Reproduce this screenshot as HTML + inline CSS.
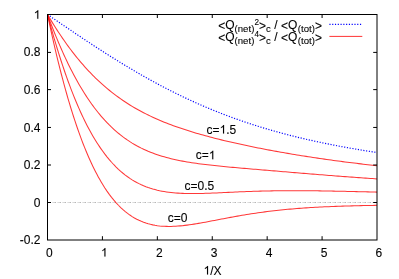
<!DOCTYPE html><html><head><meta charset="utf-8"><style>html,body{margin:0;padding:0;background:#fff;}svg{display:block;will-change:transform;}text{font-family:"Liberation Sans",sans-serif;fill:#000;stroke:#000;stroke-width:0.1px;}</style></head><body>
<svg width="399" height="279" viewBox="0 0 399 279">
<rect width="399" height="279" fill="#fff"/>
<line x1="50" y1="202.5" x2="376" y2="202.5" stroke="#b6b6b6" stroke-width="1" stroke-dasharray="1,4"/>
<line x1="52" y1="202.5" x2="376" y2="202.5" stroke="#e6e6e6" stroke-width="1" stroke-dasharray="1,4"/>
<line x1="53" y1="202.5" x2="376" y2="202.5" stroke="#dadada" stroke-width="1" stroke-dasharray="1,4"/>
<line x1="54" y1="202.5" x2="376" y2="202.5" stroke="#d4d4d4" stroke-width="1" stroke-dasharray="1,4"/>
<path d="M47.50,14.50 L48.87,15.44 L50.25,16.37 L51.62,17.31 L52.99,18.25 L54.36,19.18 L55.74,20.12 L57.11,21.06 L58.48,21.99 L59.86,22.93 L61.23,23.86 L62.60,24.79 L63.98,25.72 L65.35,26.66 L66.72,27.59 L68.09,28.52 L69.47,29.44 L70.84,30.37 L72.21,31.30 L73.59,32.22 L74.96,33.14 L76.33,34.07 L77.70,34.99 L79.08,35.91 L80.45,36.82 L81.82,37.74 L83.20,38.65 L84.57,39.56 L85.94,40.47 L87.31,41.38 L88.69,42.29 L90.06,43.19 L91.43,44.09 L92.81,44.99 L94.18,45.89 L95.55,46.79 L96.93,47.68 L98.30,48.57 L99.67,49.46 L101.04,50.34 L102.42,51.22 L104.70,52.69 L106.99,54.14 L109.28,55.59 L111.57,57.03 L113.86,58.46 L116.15,59.89 L118.43,61.30 L120.72,62.71 L123.01,64.10 L125.30,65.49 L127.59,66.86 L129.88,68.23 L132.16,69.59 L134.45,70.93 L136.74,72.27 L139.03,73.59 L141.32,74.91 L143.60,76.21 L145.89,77.50 L148.18,78.78 L150.47,80.05 L152.76,81.31 L155.05,82.56 L157.33,83.79 L159.62,85.02 L161.91,86.23 L164.20,87.43 L166.49,88.62 L168.77,89.79 L171.06,90.95 L173.35,92.11 L175.64,93.24 L177.93,94.37 L180.22,95.49 L182.50,96.59 L184.79,97.68 L187.08,98.76 L189.37,99.82 L191.66,100.87 L193.94,101.91 L196.23,102.94 L198.52,103.96 L200.81,104.96 L203.10,105.96 L205.39,106.94 L207.67,107.90 L209.96,108.86 L212.25,109.80 L214.54,110.73 L216.83,111.65 L219.11,112.56 L221.40,113.46 L223.69,114.34 L225.98,115.21 L228.27,116.08 L230.56,116.93 L232.84,117.76 L235.13,118.59 L237.42,119.41 L239.71,120.21 L242.00,121.01 L244.28,121.79 L246.57,122.56 L248.86,123.32 L251.15,124.07 L253.44,124.81 L255.73,125.54 L258.01,126.26 L260.30,126.97 L262.59,127.67 L264.88,128.36 L267.17,129.04 L269.45,129.71 L271.74,130.38 L274.03,131.03 L276.32,131.67 L278.61,132.30 L280.90,132.93 L283.18,133.54 L285.47,134.15 L287.76,134.74 L290.05,135.33 L292.34,135.91 L294.62,136.49 L296.91,137.05 L299.20,137.61 L301.49,138.15 L303.78,138.69 L306.07,139.23 L308.35,139.75 L310.64,140.27 L312.93,140.78 L315.22,141.28 L317.51,141.77 L319.80,142.26 L322.08,142.74 L324.37,143.22 L326.66,143.69 L328.95,144.15 L331.24,144.60 L333.52,145.05 L335.81,145.49 L338.10,145.93 L340.39,146.36 L342.68,146.78 L344.97,147.20 L347.25,147.61 L349.54,148.02 L351.83,148.42 L354.12,148.81 L356.41,149.20 L358.69,149.59 L360.98,149.97 L363.27,150.34 L365.56,150.71 L367.85,151.08 L370.14,151.44 L372.42,151.79 L374.71,152.14 L377.00,152.49" fill="none" stroke="#0000ff" stroke-width="1.2" stroke-dasharray="1.15,1.63"/>
<path d="M47.50,14.50 L48.87,21.00 L50.25,27.36 L51.62,33.60 L52.99,39.71 L54.36,45.69 L55.74,51.55 L57.11,57.29 L58.48,62.90 L59.86,68.38 L61.23,73.75 L62.60,78.99 L63.98,84.12 L65.35,89.13 L66.72,94.01 L68.09,98.79 L69.47,103.44 L70.84,107.98 L72.21,112.41 L73.59,116.73 L74.96,120.94 L76.33,125.04 L77.70,129.03 L79.08,132.91 L80.45,136.69 L81.82,140.37 L83.20,143.94 L84.57,147.41 L85.94,150.78 L87.31,154.06 L88.69,157.24 L90.06,160.32 L91.43,163.31 L92.81,166.20 L94.18,169.01 L95.55,171.73 L96.93,174.36 L98.30,176.90 L99.67,179.36 L101.04,181.73 L102.42,184.02 L104.70,187.67 L106.99,191.10 L109.28,194.32 L111.57,197.34 L113.86,200.16 L116.15,202.80 L118.43,205.26 L120.72,207.54 L123.01,209.65 L125.30,211.61 L127.59,213.41 L129.88,215.06 L132.16,216.58 L134.45,217.96 L136.74,219.21 L139.03,220.34 L141.32,221.35 L143.60,222.25 L145.89,223.05 L148.18,223.75 L150.47,224.35 L152.76,224.87 L155.05,225.30 L157.33,225.65 L159.62,225.94 L161.91,226.15 L164.20,226.30 L166.49,226.38 L168.77,226.42 L171.06,226.40 L173.35,226.33 L175.64,226.22 L177.93,226.06 L180.22,225.87 L182.50,225.65 L184.79,225.39 L187.08,225.11 L189.37,224.80 L191.66,224.47 L193.94,224.12 L196.23,223.75 L198.52,223.37 L200.81,222.97 L203.10,222.56 L205.39,222.15 L207.67,221.72 L209.96,221.29 L212.25,220.85 L214.54,220.42 L216.83,219.98 L219.11,219.54 L221.40,219.10 L223.69,218.66 L225.98,218.23 L228.27,217.80 L230.56,217.37 L232.84,216.95 L235.13,216.54 L237.42,216.13 L239.71,215.73 L242.00,215.34 L244.28,214.95 L246.57,214.57 L248.86,214.20 L251.15,213.84 L253.44,213.49 L255.73,213.15 L258.01,212.82 L260.30,212.49 L262.59,212.18 L264.88,211.88 L267.17,211.58 L269.45,211.29 L271.74,211.02 L274.03,210.75 L276.32,210.49 L278.61,210.24 L280.90,210.00 L283.18,209.77 L285.47,209.54 L287.76,209.33 L290.05,209.12 L292.34,208.92 L294.62,208.73 L296.91,208.55 L299.20,208.37 L301.49,208.20 L303.78,208.04 L306.07,207.88 L308.35,207.73 L310.64,207.59 L312.93,207.45 L315.22,207.32 L317.51,207.20 L319.80,207.08 L322.08,206.96 L324.37,206.85 L326.66,206.75 L328.95,206.65 L331.24,206.55 L333.52,206.46 L335.81,206.37 L338.10,206.29 L340.39,206.21 L342.68,206.14 L344.97,206.06 L347.25,205.99 L349.54,205.93 L351.83,205.86 L354.12,205.80 L356.41,205.75 L358.69,205.69 L360.98,205.64 L363.27,205.59 L365.56,205.54 L367.85,205.49 L370.14,205.45 L372.42,205.41 L374.71,205.36 L377.00,205.33" fill="none" stroke="#ff0000" stroke-opacity="0.78" stroke-width="1.05"/>
<path d="M47.50,14.50 L48.87,19.61 L50.25,24.61 L51.62,29.53 L52.99,34.34 L54.36,39.07 L55.74,43.70 L57.11,48.23 L58.48,52.67 L59.86,57.02 L61.23,61.28 L62.60,65.44 L63.98,69.52 L65.35,73.51 L66.72,77.41 L68.09,81.22 L69.47,84.94 L70.84,88.58 L72.21,92.13 L73.59,95.60 L74.96,98.99 L76.33,102.29 L77.70,105.52 L79.08,108.66 L80.45,111.72 L81.82,114.71 L83.20,117.62 L84.57,120.45 L85.94,123.21 L87.31,125.89 L88.69,128.50 L90.06,131.04 L91.43,133.50 L92.81,135.90 L94.18,138.23 L95.55,140.49 L96.93,142.69 L98.30,144.82 L99.67,146.88 L101.04,148.88 L102.42,150.82 L104.70,153.92 L106.99,156.86 L109.28,159.64 L111.57,162.26 L113.86,164.74 L116.15,167.07 L118.43,169.27 L120.72,171.33 L123.01,173.27 L125.30,175.08 L127.59,176.77 L129.88,178.36 L132.16,179.83 L134.45,181.20 L136.74,182.47 L139.03,183.65 L141.32,184.74 L143.60,185.74 L145.89,186.66 L148.18,187.51 L150.47,188.28 L152.76,188.98 L155.05,189.61 L157.33,190.19 L159.62,190.71 L161.91,191.17 L164.20,191.58 L166.49,191.94 L168.77,192.26 L171.06,192.54 L173.35,192.77 L175.64,192.97 L177.93,193.14 L180.22,193.28 L182.50,193.38 L184.79,193.46 L187.08,193.52 L189.37,193.56 L191.66,193.57 L193.94,193.57 L196.23,193.55 L198.52,193.52 L200.81,193.47 L203.10,193.41 L205.39,193.34 L207.67,193.27 L209.96,193.18 L212.25,193.09 L214.54,193.00 L216.83,192.90 L219.11,192.79 L221.40,192.69 L223.69,192.58 L225.98,192.48 L228.27,192.37 L230.56,192.26 L232.84,192.16 L235.13,192.05 L237.42,191.95 L239.71,191.85 L242.00,191.75 L244.28,191.66 L246.57,191.57 L248.86,191.48 L251.15,191.40 L253.44,191.32 L255.73,191.25 L258.01,191.18 L260.30,191.11 L262.59,191.05 L264.88,191.00 L267.17,190.95 L269.45,190.90 L271.74,190.86 L274.03,190.82 L276.32,190.79 L278.61,190.76 L280.90,190.73 L283.18,190.71 L285.47,190.70 L287.76,190.68 L290.05,190.67 L292.34,190.67 L294.62,190.67 L296.91,190.67 L299.20,190.68 L301.49,190.69 L303.78,190.70 L306.07,190.72 L308.35,190.74 L310.64,190.76 L312.93,190.79 L315.22,190.81 L317.51,190.84 L319.80,190.87 L322.08,190.91 L324.37,190.94 L326.66,190.98 L328.95,191.02 L331.24,191.07 L333.52,191.11 L335.81,191.15 L338.10,191.20 L340.39,191.25 L342.68,191.30 L344.97,191.35 L347.25,191.40 L349.54,191.45 L351.83,191.50 L354.12,191.56 L356.41,191.61 L358.69,191.66 L360.98,191.72 L363.27,191.78 L365.56,191.83 L367.85,191.89 L370.14,191.94 L372.42,192.00 L374.71,192.06 L377.00,192.12" fill="none" stroke="#ff0000" stroke-opacity="0.78" stroke-width="1.05"/>
<path d="M47.50,14.50 L48.87,18.22 L50.25,21.87 L51.62,25.46 L52.99,28.98 L54.36,32.44 L55.74,35.84 L57.11,39.17 L58.48,42.44 L59.86,45.65 L61.23,48.80 L62.60,51.89 L63.98,54.92 L65.35,57.89 L66.72,60.80 L68.09,63.65 L69.47,66.44 L70.84,69.18 L72.21,71.86 L73.59,74.48 L74.96,77.04 L76.33,79.55 L77.70,82.01 L79.08,84.41 L80.45,86.76 L81.82,89.05 L83.20,91.30 L84.57,93.49 L85.94,95.63 L87.31,97.72 L88.69,99.76 L90.06,101.76 L91.43,103.70 L92.81,105.60 L94.18,107.45 L95.55,109.26 L96.93,111.02 L98.30,112.73 L99.67,114.41 L101.04,116.04 L102.42,117.62 L104.70,120.18 L106.99,122.62 L109.28,124.96 L111.57,127.19 L113.86,129.31 L116.15,131.34 L118.43,133.28 L120.72,135.12 L123.01,136.88 L125.30,138.55 L127.59,140.14 L129.88,141.65 L132.16,143.08 L134.45,144.44 L136.74,145.74 L139.03,146.96 L141.32,148.13 L143.60,149.23 L145.89,150.28 L148.18,151.27 L150.47,152.20 L152.76,153.09 L155.05,153.93 L157.33,154.72 L159.62,155.48 L161.91,156.19 L164.20,156.86 L166.49,157.50 L168.77,158.10 L171.06,158.67 L173.35,159.22 L175.64,159.73 L177.93,160.22 L180.22,160.68 L182.50,161.12 L184.79,161.54 L187.08,161.93 L189.37,162.31 L191.66,162.67 L193.94,163.02 L196.23,163.35 L198.52,163.66 L200.81,163.97 L203.10,164.26 L205.39,164.54 L207.67,164.81 L209.96,165.07 L212.25,165.33 L214.54,165.58 L216.83,165.82 L219.11,166.05 L221.40,166.28 L223.69,166.50 L225.98,166.72 L228.27,166.94 L230.56,167.15 L232.84,167.36 L235.13,167.56 L237.42,167.77 L239.71,167.97 L242.00,168.17 L244.28,168.37 L246.57,168.57 L248.86,168.76 L251.15,168.96 L253.44,169.15 L255.73,169.35 L258.01,169.54 L260.30,169.73 L262.59,169.93 L264.88,170.12 L267.17,170.31 L269.45,170.50 L271.74,170.70 L274.03,170.89 L276.32,171.08 L278.61,171.27 L280.90,171.46 L283.18,171.65 L285.47,171.85 L287.76,172.04 L290.05,172.23 L292.34,172.42 L294.62,172.61 L296.91,172.80 L299.20,172.99 L301.49,173.18 L303.78,173.37 L306.07,173.55 L308.35,173.74 L310.64,173.93 L312.93,174.12 L315.22,174.30 L317.51,174.49 L319.80,174.67 L322.08,174.85 L324.37,175.04 L326.66,175.22 L328.95,175.40 L331.24,175.58 L333.52,175.76 L335.81,175.93 L338.10,176.11 L340.39,176.28 L342.68,176.46 L344.97,176.63 L347.25,176.80 L349.54,176.97 L351.83,177.14 L354.12,177.31 L356.41,177.47 L358.69,177.64 L360.98,177.80 L363.27,177.96 L365.56,178.12 L367.85,178.28 L370.14,178.44 L372.42,178.60 L374.71,178.75 L377.00,178.91" fill="none" stroke="#ff0000" stroke-opacity="0.78" stroke-width="1.05"/>
<path d="M47.50,14.50 L48.87,16.83 L50.25,19.12 L51.62,21.38 L52.99,23.61 L54.36,25.81 L55.74,27.98 L57.11,30.11 L58.48,32.22 L59.86,34.29 L61.23,36.33 L62.60,38.34 L63.98,40.32 L65.35,42.27 L66.72,44.19 L68.09,46.08 L69.47,47.94 L70.84,49.77 L72.21,51.58 L73.59,53.35 L74.96,55.09 L76.33,56.81 L77.70,58.50 L79.08,60.16 L80.45,61.79 L81.82,63.40 L83.20,64.97 L84.57,66.53 L85.94,68.05 L87.31,69.55 L88.69,71.03 L90.06,72.47 L91.43,73.90 L92.81,75.30 L94.18,76.67 L95.55,78.02 L96.93,79.35 L98.30,80.65 L99.67,81.93 L101.04,83.19 L102.42,84.42 L104.70,86.43 L106.99,88.38 L109.28,90.27 L111.57,92.11 L113.86,93.89 L116.15,95.62 L118.43,97.29 L120.72,98.91 L123.01,100.49 L125.30,102.02 L127.59,103.50 L129.88,104.94 L132.16,106.34 L134.45,107.69 L136.74,109.00 L139.03,110.28 L141.32,111.52 L143.60,112.72 L145.89,113.89 L148.18,115.02 L150.47,116.13 L152.76,117.20 L155.05,118.24 L157.33,119.26 L159.62,120.25 L161.91,121.21 L164.20,122.14 L166.49,123.06 L168.77,123.95 L171.06,124.81 L173.35,125.66 L175.64,126.49 L177.93,127.29 L180.22,128.08 L182.50,128.85 L184.79,129.61 L187.08,130.34 L189.37,131.07 L191.66,131.77 L193.94,132.47 L196.23,133.15 L198.52,133.81 L200.81,134.47 L203.10,135.11 L205.39,135.74 L207.67,136.36 L209.96,136.97 L212.25,137.57 L214.54,138.15 L216.83,138.73 L219.11,139.31 L221.40,139.87 L223.69,140.42 L225.98,140.97 L228.27,141.51 L230.56,142.04 L232.84,142.56 L235.13,143.08 L237.42,143.59 L239.71,144.09 L242.00,144.59 L244.28,145.08 L246.57,145.56 L248.86,146.04 L251.15,146.52 L253.44,146.98 L255.73,147.45 L258.01,147.90 L260.30,148.35 L262.59,148.80 L264.88,149.24 L267.17,149.68 L269.45,150.11 L271.74,150.54 L274.03,150.96 L276.32,151.37 L278.61,151.79 L280.90,152.19 L283.18,152.60 L285.47,153.00 L287.76,153.39 L290.05,153.78 L292.34,154.17 L294.62,154.55 L296.91,154.92 L299.20,155.30 L301.49,155.67 L303.78,156.03 L306.07,156.39 L308.35,156.75 L310.64,157.10 L312.93,157.45 L315.22,157.79 L317.51,158.13 L319.80,158.47 L322.08,158.80 L324.37,159.13 L326.66,159.45 L328.95,159.77 L331.24,160.09 L333.52,160.40 L335.81,160.71 L338.10,161.02 L340.39,161.32 L342.68,161.62 L344.97,161.91 L347.25,162.21 L349.54,162.49 L351.83,162.78 L354.12,163.06 L356.41,163.34 L358.69,163.61 L360.98,163.89 L363.27,164.15 L365.56,164.42 L367.85,164.68 L370.14,164.94 L372.42,165.19 L374.71,165.45 L377.00,165.70" fill="none" stroke="#ff0000" stroke-opacity="0.78" stroke-width="1.05"/>
<rect x="47.5" y="14.5" width="329.5" height="225.5" fill="none" stroke="#000" stroke-width="1"/>
<text x="46.06" y="256.6" font-size="12">0</text>
<line x1="102.42" y1="240.0" x2="102.42" y2="236.2" stroke="#000" stroke-width="1"/>
<line x1="102.42" y1="14.5" x2="102.42" y2="18.0" stroke="#000" stroke-width="1"/>
<path d="M105.45,256.60 L104.40,256.60 L104.40,249.88 Q104.02,250.24 103.40,250.61 T102.29,251.15 L102.29,250.13 Q103.17,249.72 103.82,249.13 T104.75,248.01 L105.45,248.01 Z" fill="#000" stroke="#000" stroke-width="0.1"/>
<line x1="157.33" y1="240.0" x2="157.33" y2="236.2" stroke="#000" stroke-width="1"/>
<line x1="157.33" y1="14.5" x2="157.33" y2="18.0" stroke="#000" stroke-width="1"/>
<text x="155.90" y="256.6" font-size="12">2</text>
<line x1="212.25" y1="240.0" x2="212.25" y2="236.2" stroke="#000" stroke-width="1"/>
<line x1="212.25" y1="14.5" x2="212.25" y2="18.0" stroke="#000" stroke-width="1"/>
<text x="210.81" y="256.6" font-size="12">3</text>
<line x1="267.17" y1="240.0" x2="267.17" y2="236.2" stroke="#000" stroke-width="1"/>
<line x1="267.17" y1="14.5" x2="267.17" y2="18.0" stroke="#000" stroke-width="1"/>
<text x="265.73" y="256.6" font-size="12">4</text>
<line x1="322.08" y1="240.0" x2="322.08" y2="236.2" stroke="#000" stroke-width="1"/>
<line x1="322.08" y1="14.5" x2="322.08" y2="18.0" stroke="#000" stroke-width="1"/>
<text x="320.65" y="256.6" font-size="12">5</text>
<text x="375.56" y="256.6" font-size="12">6</text>
<path d="M38.30,18.80 L37.24,18.80 L37.24,12.08 Q36.86,12.44 36.24,12.81 T35.13,13.35 L35.13,12.33 Q36.01,11.92 36.67,11.33 T37.60,10.21 L38.30,10.21 Z" fill="#000" stroke="#000" stroke-width="0.1"/>
<line x1="47.5" y1="52.4" x2="51.0" y2="52.4" stroke="#000" stroke-width="1"/>
<line x1="377.0" y1="52.4" x2="373.2" y2="52.4" stroke="#000" stroke-width="1"/>
<text x="23.82" y="56.4" font-size="12">0.8</text>
<line x1="47.5" y1="89.62" x2="51.0" y2="89.62" stroke="#000" stroke-width="1"/>
<line x1="377.0" y1="89.62" x2="373.2" y2="89.62" stroke="#000" stroke-width="1"/>
<text x="23.82" y="94.0" font-size="12">0.6</text>
<line x1="47.5" y1="127.45" x2="51.0" y2="127.45" stroke="#000" stroke-width="1"/>
<line x1="377.0" y1="127.45" x2="373.2" y2="127.45" stroke="#000" stroke-width="1"/>
<text x="23.82" y="131.6" font-size="12">0.4</text>
<line x1="47.5" y1="165.0" x2="51.0" y2="165.0" stroke="#000" stroke-width="1"/>
<line x1="377.0" y1="165.0" x2="373.2" y2="165.0" stroke="#000" stroke-width="1"/>
<text x="23.82" y="169.2" font-size="12">0.2</text>
<line x1="47.5" y1="202.5" x2="51.0" y2="202.5" stroke="#000" stroke-width="1"/>
<line x1="377.0" y1="202.5" x2="373.2" y2="202.5" stroke="#000" stroke-width="1"/>
<text x="33.83" y="206.8" font-size="12">0</text>
<text x="19.82" y="244.4" font-size="12">-0.2</text>
<path d="M208.06,274.50 L207.01,274.50 L207.01,267.78 Q206.63,268.14 206.01,268.51 T204.90,269.05 L204.90,268.03 Q205.78,267.62 206.44,267.03 T207.37,265.91 L208.06,265.91 Z" fill="#000" stroke="#000" stroke-width="0.1"/><text x="210.27" y="274.5" font-size="12">/X</text>
<text x="206.60" y="133.6" font-size="12">c=</text><path d="M224.08,133.60 L223.02,133.60 L223.02,126.88 Q222.64,127.24 222.02,127.61 T220.91,128.15 L220.91,127.13 Q221.79,126.72 222.45,126.13 T223.38,125.01 L224.08,125.01 Z" fill="#000" stroke="#000" stroke-width="0.1"/><text x="226.28" y="133.6" font-size="12">.5</text>
<text x="195.80" y="159.3" font-size="12">c=</text><path d="M213.28,159.30 L212.22,159.30 L212.22,152.58 Q211.84,152.94 211.22,153.31 T210.11,153.85 L210.11,152.83 Q210.99,152.42 211.65,151.83 T212.58,150.71 L213.28,150.71 Z" fill="#000" stroke="#000" stroke-width="0.1"/>
<text x="184.6" y="189.5" font-size="12">c=0.5</text>
<text x="167.8" y="221.6" font-size="12">c=0</text>
<text x="218.3" y="29.5" font-size="12">&lt;</text><text x="225.3" y="28.5" font-size="12">Q</text>
<text x="234.6" y="31.9" font-size="9.6">(net)</text>
<text x="254.6" y="25.1" font-size="8.2">2</text>
<text x="259.1" y="29.5" font-size="12">&gt;</text>
<text x="266.0" y="31.5" font-size="9.6">c</text>
<text x="274.2" y="28.5" font-size="12">/</text>
<text x="280.9" y="29.5" font-size="12">&lt;</text><text x="288.1" y="28.5" font-size="12">Q</text>
<text x="297.8" y="31.9" font-size="9.6">(tot)</text>
<text x="315.1" y="29.5" font-size="12">&gt;</text>
<line x1="329.4" y1="24.4" x2="362.3" y2="24.4" stroke="#0000ff" stroke-width="1.2" stroke-dasharray="1.15,1.63"/>
<text x="218.3" y="41.5" font-size="12">&lt;</text><text x="225.3" y="40.5" font-size="12">Q</text>
<text x="234.6" y="43.9" font-size="9.6">(net)</text>
<text x="254.6" y="37.1" font-size="8.2">4</text>
<text x="259.1" y="41.5" font-size="12">&gt;</text>
<text x="266.0" y="43.5" font-size="9.6">c</text>
<text x="274.2" y="40.5" font-size="12">/</text>
<text x="280.9" y="41.5" font-size="12">&lt;</text><text x="288.1" y="40.5" font-size="12">Q</text>
<text x="297.8" y="43.9" font-size="9.6">(tot)</text>
<text x="315.1" y="41.5" font-size="12">&gt;</text>
<line x1="329.4" y1="36.4" x2="362.3" y2="36.4" stroke="#ff0000" stroke-width="1.0" stroke-opacity="0.8"/>
</svg></body></html>
